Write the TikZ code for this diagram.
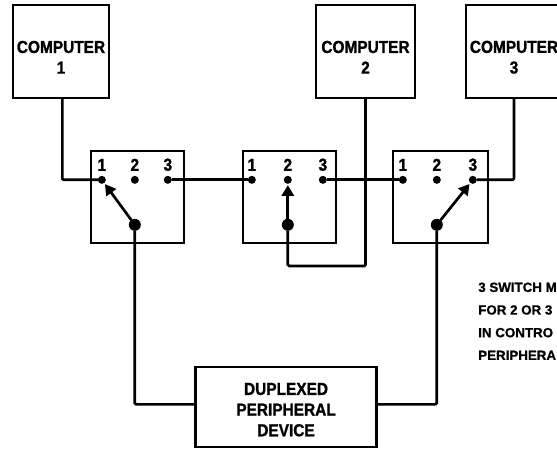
\documentclass[tikz,border=0pt]{standalone}
\usepackage{fontspec}
\setmainfont{Liberation Sans}
\newfontfamily\boxfont[FakeStretch=0.89, FakeBold=1.2]{Liberation Sans Bold}
\newfontfamily\notefont[FakeBold=0.8]{Liberation Sans Bold}
\usepackage{tikz}
\usetikzlibrary{arrows.meta, positioning}

\begin{document}
\begin{tikzpicture}[
                x=0.75pt, y=-0.75pt,
                font=\boxfont\fontsize{13}{15.5}\selectfont,
                box/.style={rectangle, draw, line width=2pt, align=center, inner sep=0pt, outer sep=0pt},
                computer/.style={box, minimum width=72pt, minimum height=69.75pt},
                switch/.style={box, minimum width=69.75pt, minimum height=69pt},
                terminal/.style={circle, fill, inner sep=0pt, outer sep=0pt, minimum size=6pt},
                pivot/.style={circle, fill, inner sep=0pt, outer sep=0pt, minimum size=9pt},
                number/.style={inner sep=0pt},
                wire/.style={line width=2pt, rounded corners=1pt},
                arrow/.style={line width=2pt, -{Triangle[length=8pt, width=9pt]}, shorten >=1pt}
            ]
            \useasboundingbox (0,0) rectangle (557,449);

            \node (comp1) [computer] at (61,51.5) {\rule{0pt}{17.7pt}COMPUTER\\1};
            \node (sw1) [switch, below right=39.75pt and -13.5pt of comp1] {};
            \node (sw2) [switch, right=44.25pt of sw1] {};
            \node (sw3) [switch, minimum width=71.25pt, right=42.75pt of sw2] {};
            \node (comp2) [computer, minimum width=74.25pt, above right=39.75pt and -15pt of sw2] {\rule{0pt}{17.7pt}COMPUTER\\2};
            \node (comp3) [computer, right=38.25pt of comp2] {\rule{0pt}{17.7pt}COMPUTER\\3};
            \node (periph) [box, minimum width=135.75pt, minimum height=60pt, below=93pt of sw2, xshift=-2.6pt] {\rule{0pt}{13pt}DUPLEXED\\PERIPHERAL\\DEVICE};

            \node (t11) [terminal, below right=19.5pt and 6pt of sw1.north west] {};
            \node (t12) [terminal, right=18.75pt of t11] {};
            \node (t13) [terminal, right=18.75pt of t12] {};
            \node (t21) [terminal, below right=19.5pt and 4.5pt of sw2.north west] {};
            \node (t22) [terminal, right=21pt of t21] {};
            \node (t23) [terminal, right=20.25pt of t22] {};
            \node (t31) [terminal, below right=19.5pt and 5.25pt of sw3.north west] {};
            \node (t32) [terminal, right=19.5pt of t31] {};
            \node (t33) [terminal, right=21pt of t32] {};

            \node (n11) [number, above=3.5pt of t11] {1};
            \node (n12) [number, above=3.5pt of t12] {2};
            \node (n13) [number, above=3.5pt of t13] {3};
            \node (n21) [number, above=3.5pt of t21] {1};
            \node (n22) [number, above=3.5pt of t22] {2};
            \node (n23) [number, above=3.5pt of t23] {3};
            \node (n31) [number, above=3.5pt of t31] {1};
            \node (n32) [number, above=3.5pt of t32] {2};
            \node (n33) [number, above=3.5pt of t33] {3};

            \node (p1) [pivot, below=26.25pt of t12] {};
            \node (p2) [pivot, below=26.25pt of t22] {};
            \node (p3) [pivot, below=26.25pt of t32] {};

            \node (note) [below right=29.5pt and -7.5pt of sw3, align=left, inner sep=0pt,
                font=\notefont\fontsize{10}{17}\selectfont] {3 SWITCH M\\FOR 2 OR 3\\IN CONTRO\\PERIPHERA};

            \coordinate (loop) at ([yshift=-17.25pt]comp2.south |- sw2.south);

            \draw [wire] ([xshift=1pt]comp1.south) |- (t11);
            \draw [wire] (t13) -- (t21);
            \draw [wire] (t23) -- (t31);
            \draw [wire] (comp3.south) |- (t33);
            \draw [wire] (p2) |- (loop) -- (comp2.south);
            \draw [wire] ([yshift=2pt]periph.west) -| (p1);
            \draw [wire] ([yshift=2pt]periph.east) -| (p3);
            \draw [arrow] (p1) -- (t11);
            \draw [arrow] (p2) -- (t22);
            \draw [arrow] (p3) -- (t33);
            \end{tikzpicture}
\end{document}
